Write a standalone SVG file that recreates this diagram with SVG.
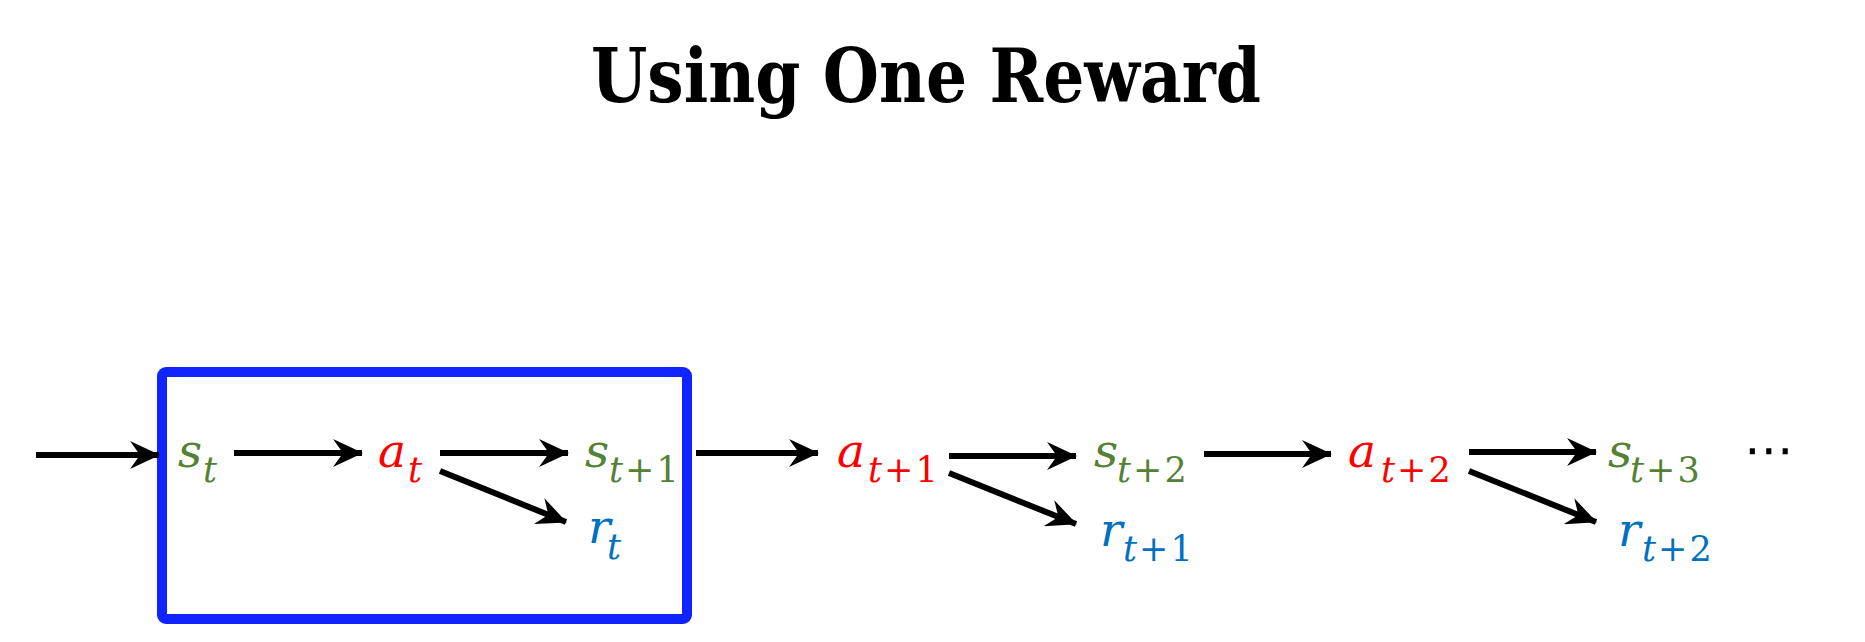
<svg xmlns="http://www.w3.org/2000/svg" width="1865" height="642" viewBox="0 0 1865 642">
<style>
.title{font-family:"DejaVu Serif","Liberation Serif",serif;font-weight:bold;font-stretch:condensed;font-size:74px;fill:#000}
.m{font-family:"DejaVu Serif","Liberation Serif",serif;font-style:italic;font-size:47px}
.sub{font-size:35px}
.up{font-style:normal;letter-spacing:2px}
.g{fill:#548235}
.r{fill:#FF0000}
.b{fill:#0070C0}
.arr{stroke:#000;stroke-width:6;fill:none;marker-end:url(#ah)}
.box{fill:none;stroke:#0F24FF;stroke-width:10}
</style>
<defs>
<marker id="ah" markerUnits="userSpaceOnUse" viewBox="0 0 30 28" markerWidth="30" markerHeight="28" refX="29" refY="14" orient="auto">
<path d="M0,0 L30,14 L0,28 L10,14 z" fill="#000"/>
</marker>
</defs>
<rect width="1865" height="642" fill="#fff"/>
<text class="title" x="926" y="102" text-anchor="middle" textLength="670" lengthAdjust="spacingAndGlyphs">Using One Reward</text>
<g id="episode-box"><rect class="box" x="162" y="372" width="525" height="247" rx="4"/></g>
<g id="connectors">
<line class="arr" x1="36" y1="455" x2="159" y2="455"/>
<line class="arr" x1="234" y1="453" x2="362" y2="453"/>
<line class="arr" x1="440" y1="453" x2="568" y2="453"/>
<line class="arr" x1="440" y1="471" x2="566" y2="522"/>
<line class="arr" x1="696" y1="453" x2="818" y2="453"/>
<line class="arr" x1="949" y1="456" x2="1076" y2="456"/>
<line class="arr" x1="949" y1="473" x2="1076" y2="524"/>
<line class="arr" x1="1204" y1="454" x2="1331" y2="454"/>
<line class="arr" x1="1469" y1="452" x2="1596" y2="452"/>
<line class="arr" x1="1469" y1="471" x2="1596" y2="522"/>
</g>
<g id="s_t"><text class="m g" x="178" y="467">s<tspan class="sub" x="203" y="482">t</tspan></text></g>
<g id="a_t"><text class="m r" x="378" y="467">a<tspan class="sub" x="408" y="482">t</tspan></text></g>
<g id="s_t1"><text class="m g" x="585" y="467">s<tspan class="sub" x="609" y="482">t<tspan class="up" dx="2">+1</tspan></tspan></text></g>
<g id="r_t"><text class="m b" x="588" y="543">r<tspan class="sub" x="607" y="559">t</tspan></text></g>
<g id="a_t1"><text class="m r" x="837" y="467">a<tspan class="sub" x="868" y="482">t<tspan class="up" dx="2">+1</tspan></tspan></text></g>
<g id="s_t2"><text class="m g" x="1094" y="467">s<tspan class="sub" x="1117" y="482">t<tspan class="up" dx="2">+2</tspan></tspan></text></g>
<g id="r_t1"><text class="m b" x="1100" y="546">r<tspan class="sub" x="1123" y="561">t<tspan class="up" dx="2">+1</tspan></tspan></text></g>
<g id="a_t2"><text class="m r" x="1348" y="467">a<tspan class="sub" x="1381" y="482">t<tspan class="up" dx="2">+2</tspan></tspan></text></g>
<g id="s_t3"><text class="m g" x="1608" y="467">s<tspan class="sub" x="1630" y="482">t<tspan class="up" dx="2">+3</tspan></tspan></text></g>
<g id="r_t2"><text class="m b" x="1618" y="546">r<tspan class="sub" x="1642" y="561">t<tspan class="up" dx="2">+2</tspan></tspan></text></g>
<g id="ellipsis"><text x="1744" y="467" style="font-family:'DejaVu Sans',sans-serif;font-size:50px;fill:#000">⋯</text></g>
</svg>
